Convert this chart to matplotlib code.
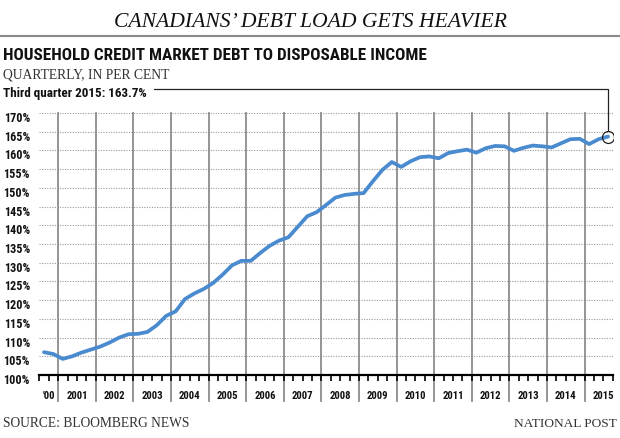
import matplotlib
matplotlib.use("Agg")
import matplotlib.pyplot as plt
from matplotlib import font_manager as fm
from matplotlib.lines import Line2D
from matplotlib.transforms import ScaledTranslation, blended_transform_factory

# ---------------- data ----------------
start_year = 2000
start_quarter = 3
debt_ratio = [
    106.1, 105.6,                      # 2000 Q3-Q4
    104.3, 105.0, 106.0, 106.8,        # 2001
    107.6, 108.7, 110.0, 110.9,        # 2002
    111.0, 111.5, 113.3, 115.8,        # 2003
    117.0, 120.3, 121.8, 123.0,        # 2004
    124.6, 126.8, 129.3, 130.5,        # 2005
    130.5, 132.6, 134.5, 135.9,        # 2006
    136.8, 139.6, 142.4, 143.5,        # 2007
    145.4, 147.4, 148.1, 148.4,        # 2008
    148.6, 151.8, 154.8, 156.9,        # 2009
    155.6, 157.1, 158.2, 158.4,        # 2010
    157.9, 159.3, 159.8, 160.2,        # 2011
    159.4, 160.6, 161.2, 161.1,        # 2012
    159.9, 160.7, 161.3, 161.1,        # 2013
    160.8, 161.9, 163.0, 163.1,        # 2014
    161.7, 163.0, 163.7,               # 2015 Q1-Q3
]
year_labels = ["'00", "2001", "2002", "2003", "2004", "2005", "2006", "2007",
               "2008", "2009", "2010", "2011", "2012", "2013", "2014", "2015"]
y_ticks = [100, 105, 110, 115, 120, 125, 130, 135, 140, 145, 150, 155, 160, 165, 170]
y_tick_labels = [f"{v}%" for v in y_ticks]

title = "CANADIANS\u2019 DEBT LOAD GETS HEAVIER"
subtitle = "HOUSEHOLD CREDIT MARKET DEBT TO DISPOSABLE INCOME"
units = "QUARTERLY, IN PER CENT"
callout = "Third quarter 2015: 163.7%"
source = "SOURCE: BLOOMBERG NEWS"
credit = "NATIONAL POST"

# time position of each quarter (centre of the quarter)
t = [start_year + (start_quarter - 1 + i + 0.5) / 4 for i in range(len(debt_ratio))]

# ---------------- fonts ----------------
names = {f.name for f in fm.fontManager.ttflist}
cond = None
cond_stretch = "normal"
for cand in ["Liberation Sans Narrow", "DejaVu Sans Condensed", "Roboto Condensed",
             "Open Sans Condensed", "Noto Sans Condensed"]:
    if cand in names:
        cond = cand
        break
if cond is None:
    if any(f.name == "DejaVu Sans" and f.stretch == "condensed" for f in fm.fontManager.ttflist):
        cond = "DejaVu Sans"
        cond_stretch = "condensed"
    else:
        cond = "Roboto" if "Roboto" in names else "DejaVu Sans"
serif = "Liberation Serif"

W, H, DPI = 620, 439, 100
fig = plt.figure(figsize=(W / DPI, H / DPI), dpi=DPI)
fig.patch.set_facecolor("white")

def fy(px):
    return 1 - px / H

def fx(px):
    return px / W

renderer = fig.canvas.get_renderer()

def fit(txt, target_w):
    w = txt.get_window_extent(renderer).width
    txt.set_fontsize(txt.get_fontsize() * target_w / w)

# ---------------- axes ----------------
ax_l, ax_r, ax_top, ax_bot = 39.3, 612.7, 114.0, 376.0
ax = fig.add_axes([fx(ax_l), fy(ax_bot), (ax_r - ax_l) / W, (ax_bot - ax_top) / H])
ax.set_xlim(start_year + 0.5, 2015.75)
ax.set_ylim(100, 170)
ax.patch.set_alpha(0)
for s in ["left", "right", "top"]:
    ax.spines[s].set_visible(False)
ax.spines["bottom"].set_color("black")
ax.spines["bottom"].set_linewidth(1.6)
ax.spines["bottom"].set_zorder(5)

# horizontal dotted grid
for v in y_ticks[1:]:
    ax.axhline(v, color="#9a9a9a", lw=0.8, ls=(0, (1, 1.3)), zorder=1)

# quarter ticks on x axis
quarter_edges = [start_year + 0.5 + k * 0.25 for k in range(int((2015.75 - 2000.5) / 0.25) + 1)]
ax.set_xticks(quarter_edges)
ax.set_xticklabels([])
ax.tick_params(axis="x", direction="out", length=4, width=1.2, color="black")
ax.set_yticks([])

axis_h = ax_bot - ax_top
bx = blended_transform_factory(ax.transData, ax.transAxes)
by = blended_transform_factory(ax.transAxes, ax.transData)

# year separator lines
for yr in range(2001, 2016):
    ax.plot([yr, yr], [-26 / axis_h, 1], transform=bx, color="#8c8c8c", lw=1.3,
            clip_on=False, zorder=1)

# y labels
ylab_objs = []
for v, lab in zip(y_ticks, y_tick_labels):
    tr = by + ScaledTranslation(-9.3 / DPI, -4.5 / DPI, fig.dpi_scale_trans)
    tx = ax.text(0, v, lab, transform=tr, ha="right", va="center", family=cond,
                 fontstretch=cond_stretch, weight="bold", fontsize=9, color="#111111")
    ylab_objs.append(tx)
fit(ylab_objs[-1], 26)
for tx in ylab_objs:
    tx.set_fontsize(ylab_objs[-1].get_fontsize())

# year labels
xlab_objs = []
for i, lab in enumerate(year_labels):
    yr = start_year + i
    xc = (start_year + 0.5 + start_year + 1) / 2 if i == 0 else yr + 0.5
    tr = bx + ScaledTranslation(0, -20 / DPI, fig.dpi_scale_trans)
    tx = ax.text(xc, 0, lab, transform=tr, ha="center", va="center", family=cond,
                 fontstretch=cond_stretch, weight="bold", fontsize=9, color="#111111")
    xlab_objs.append(tx)
fit(xlab_objs[1], 21.7)
for tx in xlab_objs:
    tx.set_fontsize(xlab_objs[1].get_fontsize())

# data line
ax.plot(t, debt_ratio, color="#4a8bcf", lw=2.7, solid_joinstyle="round",
        solid_capstyle="round", zorder=3)
ax.plot(t[-1], debt_ratio[-1], "o", ms=8.6, mfc="none", mec="#222222", mew=0.9, zorder=4)

# connector from callout to last point
ax.annotate("", xy=(t[-1], debt_ratio[-1]), xycoords="data",
            xytext=(154, H - 90), textcoords="figure pixels",
            arrowprops=dict(arrowstyle="-", connectionstyle="angle,angleA=0,angleB=90,rad=0",
                            shrinkA=0, shrinkB=4.4, lw=0.9, color="#222222"),
            annotation_clip=False)

# ---------------- header / footer ----------------
tt = fig.text(0.5, fy(26.7), title, ha="center", va="baseline", family=serif,
              style="italic", fontsize=15, color="#111111")
fit(tt, 394)
fig.add_artist(Line2D([0, 1], [fy(36.7), fy(36.7)], transform=fig.transFigure,
                      color="#8a8a8a", lw=1.5))
st = fig.text(fx(3), fy(60), subtitle, ha="left", va="baseline", family=cond,
              fontstretch=cond_stretch, weight="bold", fontsize=11, color="#111111")
fit(st, 425)
ut = fig.text(fx(3), fy(78.3), units, ha="left", va="baseline", family=serif,
              fontsize=9, color="#333333")
fit(ut, 167)
ct = fig.text(fx(3), fy(96.7), callout, ha="left", va="baseline", family=cond,
              fontstretch=cond_stretch, weight="bold", fontsize=10, color="#111111")
fit(ct, 145)
so = fig.text(fx(3), fy(426.7), source, ha="left", va="baseline", family=serif,
              fontsize=9, color="#333333")
fit(so, 187)
cr = fig.text(fx(616.7), fy(426.7), credit, ha="right", va="baseline", family=serif,
              fontsize=9, color="#333333")
fit(cr, 103)

fig.savefig("out.png", dpi=DPI, facecolor="white")
